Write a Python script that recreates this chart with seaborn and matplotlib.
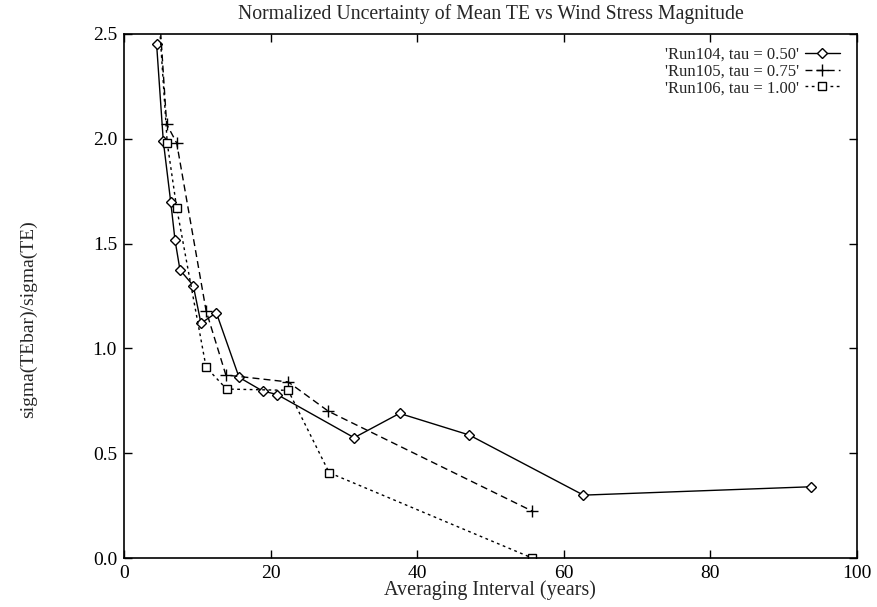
import matplotlib
matplotlib.use("Agg")
import matplotlib.pyplot as plt
import seaborn as sns
import pandas as pd

# Data
run104_x = [4.45, 5.36, 6.37, 6.96, 7.64, 9.45, 10.5, 12.6, 15.7, 18.9, 20.9, 31.4, 37.6, 47.1, 62.7, 93.8]
run104_y = [2.45, 1.99, 1.70, 1.517, 1.374, 1.30, 1.12, 1.17, 0.862, 0.797, 0.78, 0.574, 0.69, 0.587, 0.30, 0.34]
run105_x = [4.45, 5.82, 7.19, 11.2, 13.9, 22.4, 27.9, 55.7]
run105_y = [2.80, 2.07, 1.98, 1.18, 0.873, 0.84, 0.70, 0.224]
run106_x = [4.45, 5.9, 7.19, 11.2, 14.0, 22.4, 28.0, 55.7]
run106_y = [2.75, 1.98, 1.67, 0.91, 0.806, 0.80, 0.407, 0.0]
labels = ["'Run104, tau = 0.50'", "'Run105, tau = 0.75'", "'Run106, tau = 1.00'"]
x_ticks = [0, 20, 40, 60, 80, 100]
y_ticks = [0.0, 0.5, 1.0, 1.5, 2.0, 2.5]

sns.set_style("ticks")
plt.rcParams['font.family'] = ['Liberation Serif', 'DejaVu Serif']

fig = plt.figure(figsize=(8.77, 6.07), dpi=100)
ax = fig.add_axes([0.1414, 0.0807, 0.977 - 0.1414, 0.944 - 0.0807])

series = [
    (run104_x, run104_y, labels[0], dict(marker='D', linestyle='-', markersize=5)),
    (run105_x, run105_y, labels[1], dict(marker='+', linestyle=(0, (5, 3)), markersize=8)),
    (run106_x, run106_y, labels[2], dict(marker='s', linestyle=(0, (2, 2.5)), markersize=6)),
]
for xs, ys, lab, st in series:
    df = pd.DataFrame({"x": xs, "y": ys})
    sns.lineplot(data=df, x="x", y="y", ax=ax, sort=False, color='black', linewidth=1.0,
                 marker=st['marker'], linestyle=st['linestyle'], markersize=st['markersize'],
                 markerfacecolor='white' if st['marker'] != '+' else 'black',
                 markeredgecolor='black', markeredgewidth=1.0, label=lab)

ax.set_xlim(0, 100)
ax.set_ylim(0, 2.5)
ax.set_xticks(x_ticks)
ax.set_xticklabels([str(v) for v in x_ticks])
ax.set_yticks(y_ticks)
ax.set_yticklabels([f"{v:.1f}" for v in y_ticks])
ax.tick_params(direction='in', top=True, right=True, length=6, width=1.0, labelsize=14,
               colors='black', pad=5)
for s in ax.spines.values():
    s.set_linewidth(1.2)
    s.set_color('black')

ax.set_xlabel("Averaging Interval (years)", fontsize=14.5, labelpad=-1)
ax.set_ylabel("sigma(TEbar)/sigma(TE)", fontsize=14)
ax.yaxis.set_label_coords(-0.118, 0.455)
ax.set_title("Normalized Uncertainty of Mean TE vs Wind Stress Magnitude", fontsize=14.2, pad=11)

leg = ax.legend(loc='upper right', frameon=False, markerfirst=False, fontsize=12,
                handlelength=2.1, handletextpad=0.35, labelspacing=0.05,
                borderaxespad=0.2, bbox_to_anchor=(0.99, 0.995))

fig.savefig("out.png", dpi=100)
